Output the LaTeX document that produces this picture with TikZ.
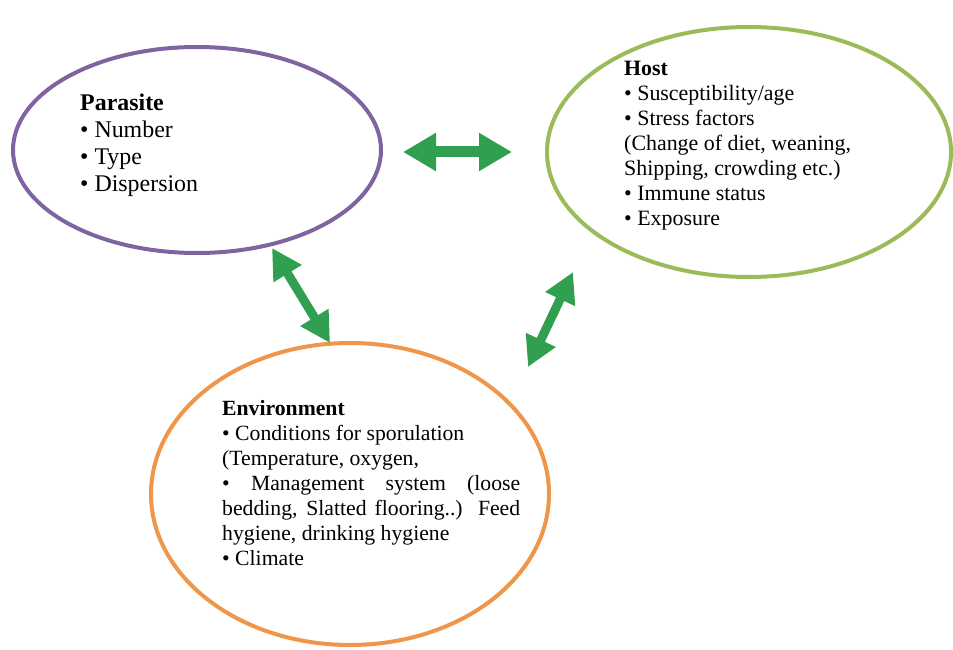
\documentclass[tikz,border=0pt]{standalone}
\usepackage{fontspec}
\setmainfont{Liberation Serif}
\usetikzlibrary{shapes.geometric,arrows.meta}
\definecolor{parc}{HTML}{8064A2}
\definecolor{hostc}{HTML}{9BBB59}
\definecolor{envc}{HTML}{F0964A}
\definecolor{arrc}{HTML}{30A050}
\begin{document}
\begin{tikzpicture}[x=1pt,y=-1pt,
  oval/.style={ellipse, draw, line width=4pt, inner sep=0pt},
  bigarrow/.style={draw=arrc, line width=11pt, {Triangle[width=36pt,length=33pt]}-{Triangle[width=36pt,length=33pt]}},
  diagarrow/.style={draw=arrc, line width=9pt, {Triangle[width=31pt,length=30pt]}-{Triangle[width=31pt,length=30pt]}},
  txt/.style={inner sep=0pt, anchor=north west, align=left}
]
\useasboundingbox (0,0) rectangle (953,650);
\node[oval, draw=parc, minimum width=368pt, minimum height=206pt] (parasite) at (197,150) {};
\node[oval, draw=hostc, minimum width=404pt, minimum height=250pt] (host) at (749,152) {};
\node[oval, draw=envc, minimum width=398pt, minimum height=302pt] (env) at (350,494) {};

\node[txt, font=\fontsize{23.9}{26.8}\selectfont] (ptext) at (80,94)
  {\textbf{Parasite}\\• Number\\• Type\\• Dispersion};
\node[txt, font=\fontsize{21.9}{25}\selectfont] (htext) at (624,61)
  {\textbf{Host}\\• Susceptibility/age\\• Stress factors\\(Change of diet, weaning,\\Shipping, crowding etc.)\\• Immune status\\• Exposure};
\node[txt, font=\fontsize{21.7}{25}\selectfont] (etext) at (222,400)
  {\textbf{Environment}\\
   • Conditions for sporulation\\
   (Temperature, oxygen,\\
   \makebox[298pt][s]{• Management system (loose}\\
   \makebox[298pt][s]{bedding, Slatted flooring..) Feed}\\
   hygiene, drinking hygiene\\
   • Climate};

\coordinate (h1) at (403,152); \coordinate (h2) at (512,152);
\coordinate (l1) at (272,248); \coordinate (l2) at (330,343);
\coordinate (r1) at (573,272); \coordinate (r2) at (528,367);
\draw[bigarrow] (h1) -- (h2);
\draw[diagarrow] (l1) -- (l2);
\draw[diagarrow] (r1) -- (r2);
\end{tikzpicture}
\end{document}
